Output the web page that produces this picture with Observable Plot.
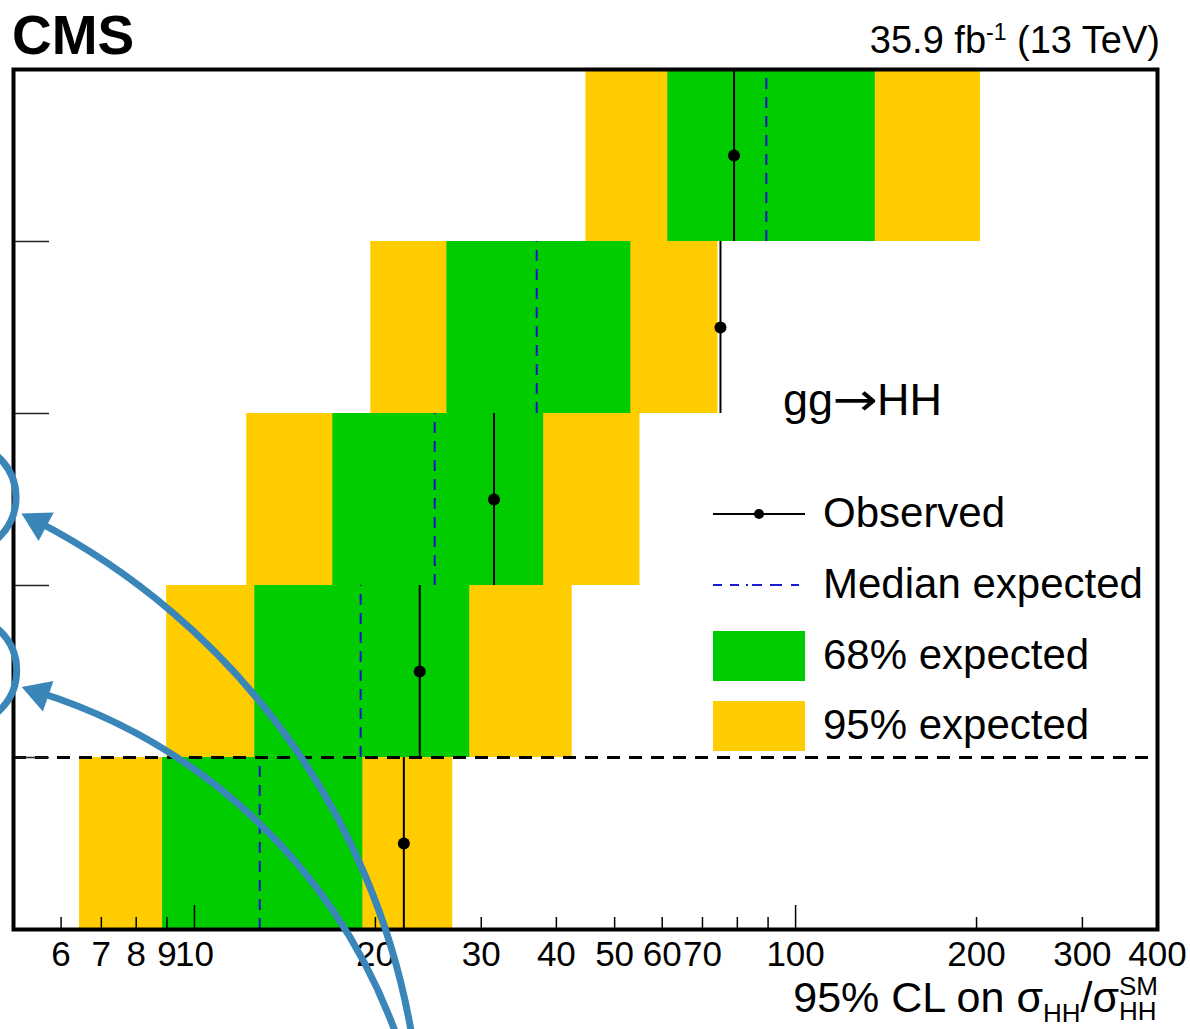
<!DOCTYPE html>
<html>
<head>
<meta charset="utf-8">
<script src="https://cdn.jsdelivr.net/npm/d3@7"></script>
<script src="https://cdn.jsdelivr.net/npm/@observablehq/plot@0.6"></script>
<style>
  html, body { margin: 0; padding: 0; background: #fff; overflow: hidden; }
  #wrap { position: relative; width: 1190px; height: 1029px; overflow: hidden;
          font-family: "Liberation Sans", Arial, Helvetica, sans-serif; color: #000; }
  #chart { position: absolute; left: 0; top: 0; }
  .t { position: absolute; white-space: nowrap; line-height: 1; }
  #legendSym { position: absolute; left: 0; top: 0; pointer-events: none; }
  .arr { display: inline-block; width: 44px; text-align: center; font-family: "DejaVu Sans", sans-serif;
         transform: scaleX(1.2); }
</style>
</head>
<body>
<div id="wrap">
  <div id="chart"></div>
  <svg id="legendSym" width="1190" height="1029"></svg>
  <div class="t" style="left:12px; top:8px; font-size:55px; font-weight:bold;">CMS</div>
  <div class="t" style="right:30px; top:21px; font-size:38px;">35.9 fb<span style="font-size:23px; position:relative; top:-13px;">-1</span> (13 TeV)</div>
  <div class="t" style="left:783px; top:377px; font-size:45px;">gg<span class="arr">→</span>HH</div>
  <div class="t" style="left:823px; top:492px; font-size:42px;">Observed</div>
  <div class="t" style="left:823px; top:563px; font-size:42px;">Median expected</div>
  <div class="t" style="left:823px; top:634px; font-size:42px;">68% expected</div>
  <div class="t" style="left:823px; top:704px; font-size:42px;">95% expected</div>
  <div class="t" style="right:32px; top:976px; font-size:43px;">95% CL on σ<span style="font-size:26px; position:relative; top:10px;">HH</span>/σ<span style="font-size:26px; position:relative;"><span style="position:relative; top:-17px;">SM</span><span style="position:absolute; left:0; top:10px;">HH</span></span></div>
</div>
<script>
// Limit rows, bottom to top (row index 0 is the lowest band)
const rowIndex = [0, 1, 2, 3, 4];
const observed = [22.3, 23.7, 31.5, 75.0, 79.0];
const expected = [12.84, 18.9, 25.1, 37.1, 89.4];
const lo68 = [8.85, 12.6, 16.99, 26.3, 61.3];
const hi68 = [19.06, 28.7, 38.1, 53.2, 135.7];
const lo95 = [6.44, 8.99, 12.22, 19.65, 44.8];
const hi95 = [26.9, 42.5, 55.1, 74.3, 203];

// Axis ticks
const tickLabels = [6, 7, 8, 9, 10, 20, 30, 40, 50, 60, 70, 100, 200, 300, 400];
const majorTicks = [10, 100];
const minorTicks = [6, 7, 8, 9, 20, 30, 40, 50, 60, 70, 80, 90, 200, 300];
const rowEdges = [1, 2, 3, 4];
const dividerRow = [1];

// Callout arrows and rings (start, tip, arrowhead centre, ring centre)
const calloutStartX = [22.9, 21.5];
const calloutStartY = [-0.581, -0.581];
const calloutTipX = [5.154, 5.154];
const calloutTipY = [2.419, 1.409];
const calloutHeadX = [5.49, 5.52];
const calloutHeadY = [2.367, 1.374];
const calloutHeadAngle = [-62, -71];
const ringX = [4.09, 4.10];
const ringY = [2.512, 1.506];

const rows = rowIndex.map((k, i) => ({
  k, top: k + 1, mid: k + 0.5,
  obs: observed[i], exp: expected[i],
  lo68: lo68[i], hi68: hi68[i], lo95: lo95[i], hi95: hi95[i]
}));
const callouts = calloutStartX.map((_, i) => ({
  x1: calloutStartX[i], y1: calloutStartY[i],
  x2: calloutTipX[i], y2: calloutTipY[i],
  hx: calloutHeadX[i], hy: calloutHeadY[i], rot: calloutHeadAngle[i],
  cx: ringX[i], cy: ringY[i]
}));

const W = 1190, H = 1029;
const M = {top: 69, bottom: 100, left: 13, right: 33};
const frameW = W - M.left - M.right;
const frameH = H - M.top - M.bottom;
const blue = "#3a86b9";
const font = '"Liberation Sans", Arial, Helvetica, sans-serif';

const chart = Plot.plot({
  width: W, height: H,
  marginTop: M.top, marginBottom: M.bottom, marginLeft: M.left, marginRight: M.right,
  style: {fontFamily: font, fontSize: "36px", background: "transparent", overflow: "visible"},
  x: {type: "log", domain: [5, 400], axis: null},
  y: {domain: [0, 5], axis: null},
  marks: [
    Plot.rect(rows, {x1: "lo95", x2: "hi95", y1: "k", y2: "top", fill: "#ffcc00"}),
    Plot.rect(rows, {x1: "lo68", x2: "hi68", y1: "k", y2: "top", fill: "#00cc00"}),
    Plot.ruleX(rows, {x: "exp", y1: "k", y2: "top", stroke: "#1414c8", strokeWidth: 2, strokeDasharray: "11,8"}),
    Plot.ruleX(rows, {x: "obs", y1: "k", y2: "top", stroke: "black", strokeWidth: 2}),
    Plot.dot(rows, {x: "obs", y: "mid", r: 6, fill: "black"}),
    Plot.ruleY(dividerRow, {y: d => d, stroke: "black", strokeWidth: 3, strokeDasharray: "13,9"}),
    Plot.tickX(minorTicks, {x: d => d, insetTop: frameH - 12, stroke: "black", strokeWidth: 1.5}),
    Plot.tickX(majorTicks, {x: d => d, insetTop: frameH - 24, stroke: "black", strokeWidth: 1.5}),
    Plot.tickY(rowEdges, {y: d => d, insetRight: frameW - 36, stroke: "#222", strokeWidth: 1.5}),
    Plot.frame({stroke: "black", strokeWidth: 4}),
    Plot.text(tickLabels, {x: d => d, text: d => `${d}`, frameAnchor: "bottom", lineAnchor: "top", dy: 12, fontSize: 35, fill: "black"}),
    // callouts
    Plot.arrow(callouts, {x1: "x1", y1: "y1", x2: "x2", y2: "y2", bend: -27, headLength: 0, insetEnd: 18, stroke: blue, strokeWidth: 7}),
    Plot.dot(callouts, {x: "hx", y: "hy", symbol: "triangle", r: 12, fill: blue, stroke: "none", rotate: "rot"}),
    Plot.dot(callouts, {x: "cx", y: "cy", r: 55, stroke: blue, strokeWidth: 7, fill: "none"})
  ]
});
document.getElementById("chart").append(chart);

// Legend symbols
const leg = d3.select("#legendSym");
leg.append("line").attr("x1", 713).attr("x2", 805).attr("y1", 514).attr("y2", 514).attr("stroke", "black").attr("stroke-width", 2);
leg.append("circle").attr("cx", 759).attr("cy", 514).attr("r", 5).attr("fill", "black");
leg.append("line").attr("x1", 713).attr("x2", 805).attr("y1", 585).attr("y2", 585)
  .attr("stroke", "#1a1ad0").attr("stroke-width", 2).attr("stroke-dasharray", "9,8,9,7,2,4,10,8,12");
leg.append("rect").attr("x", 713).attr("y", 631).attr("width", 92).attr("height", 50).attr("fill", "#00cc00");
leg.append("rect").attr("x", 713).attr("y", 701).attr("width", 92).attr("height", 50).attr("fill", "#ffcc00");
</script>
</body>
</html>
